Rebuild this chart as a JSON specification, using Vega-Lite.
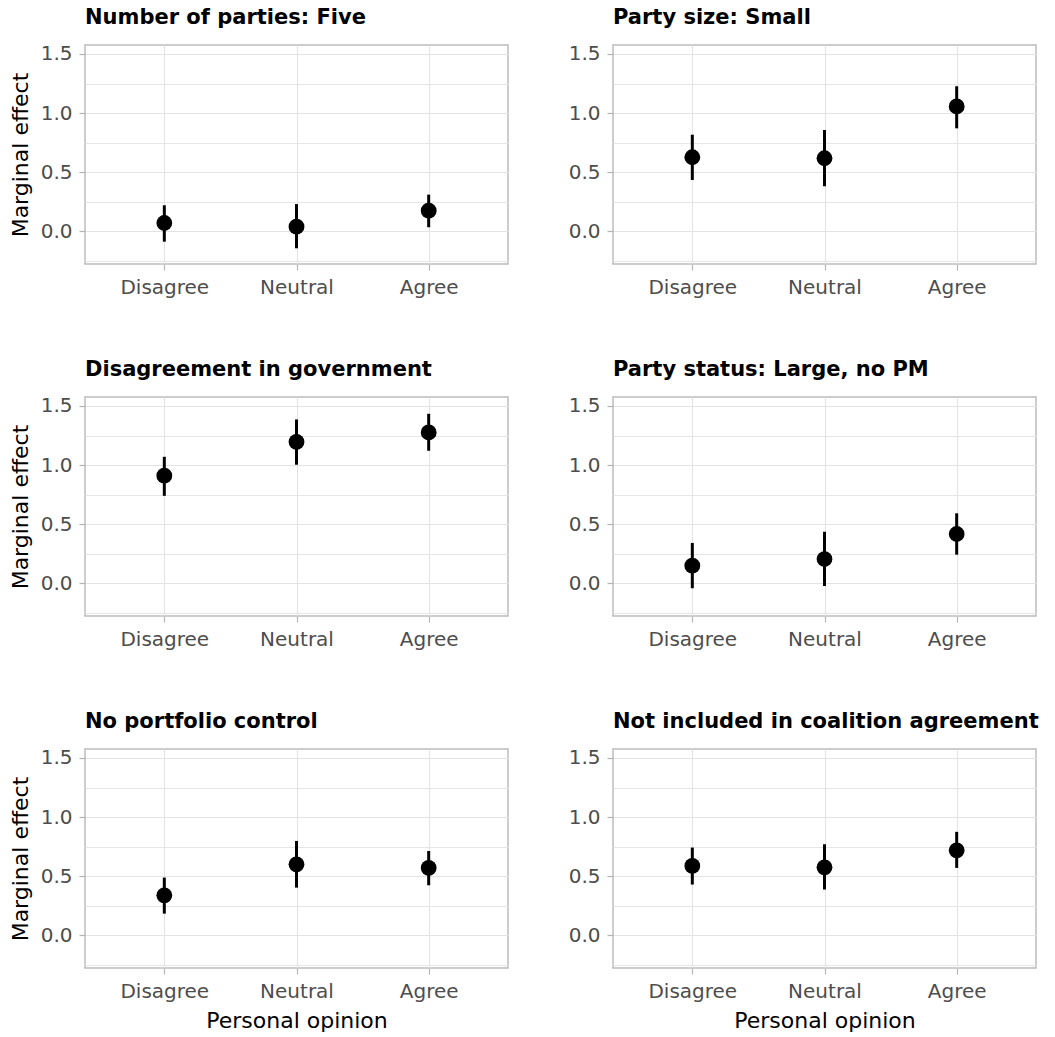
{
  "$schema": "https://vega.github.io/schema/vega-lite/v6.json",
  "padding": {"left": 8, "top": 6, "right": 5, "bottom": 5},
  "background": "white",
  "data": {"values": [
    {"panel": "Number of parties: Five", "opinion": "Disagree", "est": 0.07, "lo": -0.088, "hi": 0.22},
    {"panel": "Number of parties: Five", "opinion": "Neutral", "est": 0.039, "lo": -0.144, "hi": 0.23},
    {"panel": "Number of parties: Five", "opinion": "Agree", "est": 0.174, "lo": 0.034, "hi": 0.31},
    {"panel": "Party size: Small", "opinion": "Disagree", "est": 0.626, "lo": 0.434, "hi": 0.817},
    {"panel": "Party size: Small", "opinion": "Neutral", "est": 0.618, "lo": 0.381, "hi": 0.857},
    {"panel": "Party size: Small", "opinion": "Agree", "est": 1.056, "lo": 0.871, "hi": 1.227},
    {"panel": "Disagreement in government", "opinion": "Disagree", "est": 0.91, "lo": 0.74, "hi": 1.07},
    {"panel": "Disagreement in government", "opinion": "Neutral", "est": 1.197, "lo": 1.003, "hi": 1.386},
    {"panel": "Disagreement in government", "opinion": "Agree", "est": 1.276, "lo": 1.121, "hi": 1.434},
    {"panel": "Party status: Large, no PM", "opinion": "Disagree", "est": 0.149, "lo": -0.042, "hi": 0.341},
    {"panel": "Party status: Large, no PM", "opinion": "Neutral", "est": 0.205, "lo": -0.023, "hi": 0.436},
    {"panel": "Party status: Large, no PM", "opinion": "Agree", "est": 0.417, "lo": 0.242, "hi": 0.592},
    {"panel": "No portfolio control", "opinion": "Disagree", "est": 0.338, "lo": 0.183, "hi": 0.488},
    {"panel": "No portfolio control", "opinion": "Neutral", "est": 0.6, "lo": 0.403, "hi": 0.798},
    {"panel": "No portfolio control", "opinion": "Agree", "est": 0.57, "lo": 0.423, "hi": 0.713},
    {"panel": "Not included in coalition agreement", "opinion": "Disagree", "est": 0.587, "lo": 0.429, "hi": 0.742},
    {"panel": "Not included in coalition agreement", "opinion": "Neutral", "est": 0.575, "lo": 0.387, "hi": 0.77},
    {"panel": "Not included in coalition agreement", "opinion": "Agree", "est": 0.719, "lo": 0.57, "hi": 0.875}
  ]},
  "columns": 2,
  "bounds": "flush",
  "spacing": {"row": 133, "column": 105},
  "concat": [
    {
      "title": "Number of parties: Five",
      "width": 423, "height": 219,
      "transform": [{"filter": {"field": "panel", "equal": "Number of parties: Five"}}],
      "encoding": {"x": {"field": "opinion", "type": "nominal", "sort": ["Disagree", "Neutral", "Agree"], "scale": {"type": "point", "padding": 0.6}, "axis": {"title": null, "labelAngle": 0, "grid": true}}},
      "layer": [
        {"mark": {"type": "rule", "strokeWidth": 3, "color": "black"},
         "encoding": {"y": {"field": "lo", "type": "quantitative", "scale": {"domain": [-0.277, 1.576], "nice": false, "zero": false},
           "axis": {"title": "Marginal effect", "values": [-0.25, 0, 0.25, 0.5, 0.75, 1, 1.25, 1.5], "labelExpr": "datum.value % 0.5 === 0 ? format(datum.value, '.1f') : ''", "labelOverlap": false, "tickOpacity": {"condition": {"test": "datum.value % 0.5 !== 0", "value": 0}, "value": 1}, "gridWidth": {"condition": {"test": "datum.value % 0.5 !== 0", "value": 0.9}, "value": 1.2}, "titlePadding": 8}},
           "y2": {"field": "hi"}}},
        {"mark": {"type": "circle", "size": 250, "color": "black", "opacity": 1},
         "encoding": {"y": {"field": "est", "type": "quantitative", "scale": {"domain": [-0.277, 1.576], "nice": false, "zero": false},
           "axis": {"title": "Marginal effect", "values": [-0.25, 0, 0.25, 0.5, 0.75, 1, 1.25, 1.5], "labelExpr": "datum.value % 0.5 === 0 ? format(datum.value, '.1f') : ''", "labelOverlap": false, "tickOpacity": {"condition": {"test": "datum.value % 0.5 !== 0", "value": 0}, "value": 1}, "gridWidth": {"condition": {"test": "datum.value % 0.5 !== 0", "value": 0.9}, "value": 1.2}, "titlePadding": 8}}}}
      ]
    },
    {
      "title": "Party size: Small",
      "width": 423, "height": 219,
      "transform": [{"filter": {"field": "panel", "equal": "Party size: Small"}}],
      "encoding": {"x": {"field": "opinion", "type": "nominal", "sort": ["Disagree", "Neutral", "Agree"], "scale": {"type": "point", "padding": 0.6}, "axis": {"title": null, "labelAngle": 0, "grid": true}}},
      "layer": [
        {"mark": {"type": "rule", "strokeWidth": 3, "color": "black"},
         "encoding": {"y": {"field": "lo", "type": "quantitative", "scale": {"domain": [-0.277, 1.576], "nice": false, "zero": false},
           "axis": {"title": null, "values": [-0.25, 0, 0.25, 0.5, 0.75, 1, 1.25, 1.5], "labelExpr": "datum.value % 0.5 === 0 ? format(datum.value, '.1f') : ''", "labelOverlap": false, "tickOpacity": {"condition": {"test": "datum.value % 0.5 !== 0", "value": 0}, "value": 1}, "gridWidth": {"condition": {"test": "datum.value % 0.5 !== 0", "value": 0.9}, "value": 1.2}}},
           "y2": {"field": "hi"}}},
        {"mark": {"type": "circle", "size": 250, "color": "black", "opacity": 1},
         "encoding": {"y": {"field": "est", "type": "quantitative", "scale": {"domain": [-0.277, 1.576], "nice": false, "zero": false},
           "axis": {"title": null, "values": [-0.25, 0, 0.25, 0.5, 0.75, 1, 1.25, 1.5], "labelExpr": "datum.value % 0.5 === 0 ? format(datum.value, '.1f') : ''", "labelOverlap": false, "tickOpacity": {"condition": {"test": "datum.value % 0.5 !== 0", "value": 0}, "value": 1}, "gridWidth": {"condition": {"test": "datum.value % 0.5 !== 0", "value": 0.9}, "value": 1.2}}}}}
      ]
    },
    {
      "title": "Disagreement in government",
      "width": 423, "height": 219,
      "transform": [{"filter": {"field": "panel", "equal": "Disagreement in government"}}],
      "encoding": {"x": {"field": "opinion", "type": "nominal", "sort": ["Disagree", "Neutral", "Agree"], "scale": {"type": "point", "padding": 0.6}, "axis": {"title": null, "labelAngle": 0, "grid": true}}},
      "layer": [
        {"mark": {"type": "rule", "strokeWidth": 3, "color": "black"},
         "encoding": {"y": {"field": "lo", "type": "quantitative", "scale": {"domain": [-0.277, 1.576], "nice": false, "zero": false},
           "axis": {"title": "Marginal effect", "values": [-0.25, 0, 0.25, 0.5, 0.75, 1, 1.25, 1.5], "labelExpr": "datum.value % 0.5 === 0 ? format(datum.value, '.1f') : ''", "labelOverlap": false, "tickOpacity": {"condition": {"test": "datum.value % 0.5 !== 0", "value": 0}, "value": 1}, "gridWidth": {"condition": {"test": "datum.value % 0.5 !== 0", "value": 0.9}, "value": 1.2}, "titlePadding": 8}},
           "y2": {"field": "hi"}}},
        {"mark": {"type": "circle", "size": 250, "color": "black", "opacity": 1},
         "encoding": {"y": {"field": "est", "type": "quantitative", "scale": {"domain": [-0.277, 1.576], "nice": false, "zero": false},
           "axis": {"title": "Marginal effect", "values": [-0.25, 0, 0.25, 0.5, 0.75, 1, 1.25, 1.5], "labelExpr": "datum.value % 0.5 === 0 ? format(datum.value, '.1f') : ''", "labelOverlap": false, "tickOpacity": {"condition": {"test": "datum.value % 0.5 !== 0", "value": 0}, "value": 1}, "gridWidth": {"condition": {"test": "datum.value % 0.5 !== 0", "value": 0.9}, "value": 1.2}, "titlePadding": 8}}}}
      ]
    },
    {
      "title": "Party status: Large, no PM",
      "width": 423, "height": 219,
      "transform": [{"filter": {"field": "panel", "equal": "Party status: Large, no PM"}}],
      "encoding": {"x": {"field": "opinion", "type": "nominal", "sort": ["Disagree", "Neutral", "Agree"], "scale": {"type": "point", "padding": 0.6}, "axis": {"title": null, "labelAngle": 0, "grid": true}}},
      "layer": [
        {"mark": {"type": "rule", "strokeWidth": 3, "color": "black"},
         "encoding": {"y": {"field": "lo", "type": "quantitative", "scale": {"domain": [-0.277, 1.576], "nice": false, "zero": false},
           "axis": {"title": null, "values": [-0.25, 0, 0.25, 0.5, 0.75, 1, 1.25, 1.5], "labelExpr": "datum.value % 0.5 === 0 ? format(datum.value, '.1f') : ''", "labelOverlap": false, "tickOpacity": {"condition": {"test": "datum.value % 0.5 !== 0", "value": 0}, "value": 1}, "gridWidth": {"condition": {"test": "datum.value % 0.5 !== 0", "value": 0.9}, "value": 1.2}}},
           "y2": {"field": "hi"}}},
        {"mark": {"type": "circle", "size": 250, "color": "black", "opacity": 1},
         "encoding": {"y": {"field": "est", "type": "quantitative", "scale": {"domain": [-0.277, 1.576], "nice": false, "zero": false},
           "axis": {"title": null, "values": [-0.25, 0, 0.25, 0.5, 0.75, 1, 1.25, 1.5], "labelExpr": "datum.value % 0.5 === 0 ? format(datum.value, '.1f') : ''", "labelOverlap": false, "tickOpacity": {"condition": {"test": "datum.value % 0.5 !== 0", "value": 0}, "value": 1}, "gridWidth": {"condition": {"test": "datum.value % 0.5 !== 0", "value": 0.9}, "value": 1.2}}}}}
      ]
    },
    {
      "title": "No portfolio control",
      "width": 423, "height": 219,
      "transform": [{"filter": {"field": "panel", "equal": "No portfolio control"}}],
      "encoding": {"x": {"field": "opinion", "type": "nominal", "sort": ["Disagree", "Neutral", "Agree"], "scale": {"type": "point", "padding": 0.6}, "axis": {"title": "Personal opinion", "labelAngle": 0, "grid": true, "titlePadding": 9}}},
      "layer": [
        {"mark": {"type": "rule", "strokeWidth": 3, "color": "black"},
         "encoding": {"y": {"field": "lo", "type": "quantitative", "scale": {"domain": [-0.277, 1.576], "nice": false, "zero": false},
           "axis": {"title": "Marginal effect", "values": [-0.25, 0, 0.25, 0.5, 0.75, 1, 1.25, 1.5], "labelExpr": "datum.value % 0.5 === 0 ? format(datum.value, '.1f') : ''", "labelOverlap": false, "tickOpacity": {"condition": {"test": "datum.value % 0.5 !== 0", "value": 0}, "value": 1}, "gridWidth": {"condition": {"test": "datum.value % 0.5 !== 0", "value": 0.9}, "value": 1.2}, "titlePadding": 8}},
           "y2": {"field": "hi"}}},
        {"mark": {"type": "circle", "size": 250, "color": "black", "opacity": 1},
         "encoding": {"y": {"field": "est", "type": "quantitative", "scale": {"domain": [-0.277, 1.576], "nice": false, "zero": false},
           "axis": {"title": "Marginal effect", "values": [-0.25, 0, 0.25, 0.5, 0.75, 1, 1.25, 1.5], "labelExpr": "datum.value % 0.5 === 0 ? format(datum.value, '.1f') : ''", "labelOverlap": false, "tickOpacity": {"condition": {"test": "datum.value % 0.5 !== 0", "value": 0}, "value": 1}, "gridWidth": {"condition": {"test": "datum.value % 0.5 !== 0", "value": 0.9}, "value": 1.2}, "titlePadding": 8}}}}
      ]
    },
    {
      "title": "Not included in coalition agreement",
      "width": 423, "height": 219,
      "transform": [{"filter": {"field": "panel", "equal": "Not included in coalition agreement"}}],
      "encoding": {"x": {"field": "opinion", "type": "nominal", "sort": ["Disagree", "Neutral", "Agree"], "scale": {"type": "point", "padding": 0.6}, "axis": {"title": "Personal opinion", "labelAngle": 0, "grid": true, "titlePadding": 9}}},
      "layer": [
        {"mark": {"type": "rule", "strokeWidth": 3, "color": "black"},
         "encoding": {"y": {"field": "lo", "type": "quantitative", "scale": {"domain": [-0.277, 1.576], "nice": false, "zero": false},
           "axis": {"title": null, "values": [-0.25, 0, 0.25, 0.5, 0.75, 1, 1.25, 1.5], "labelExpr": "datum.value % 0.5 === 0 ? format(datum.value, '.1f') : ''", "labelOverlap": false, "tickOpacity": {"condition": {"test": "datum.value % 0.5 !== 0", "value": 0}, "value": 1}, "gridWidth": {"condition": {"test": "datum.value % 0.5 !== 0", "value": 0.9}, "value": 1.2}}},
           "y2": {"field": "hi"}}},
        {"mark": {"type": "circle", "size": 250, "color": "black", "opacity": 1},
         "encoding": {"y": {"field": "est", "type": "quantitative", "scale": {"domain": [-0.277, 1.576], "nice": false, "zero": false},
           "axis": {"title": null, "values": [-0.25, 0, 0.25, 0.5, 0.75, 1, 1.25, 1.5], "labelExpr": "datum.value % 0.5 === 0 ? format(datum.value, '.1f') : ''", "labelOverlap": false, "tickOpacity": {"condition": {"test": "datum.value % 0.5 !== 0", "value": 0}, "value": 1}, "gridWidth": {"condition": {"test": "datum.value % 0.5 !== 0", "value": 0.9}, "value": 1.2}}}}}
      ]
    }
  ],
  "config": {
    "font": "DejaVu Sans",
    "view": {"stroke": "#BDBDBD", "strokeWidth": 1.5},
    "axis": {
      "domain": false,
      "tickColor": "#B3B3B3",
      "tickSize": 6,
      "tickWidth": 1.2,
      "labelFont": "DejaVu Sans",
      "labelFontSize": 20,
      "labelColor": "#4D4D4D",
      "labelPadding": 7,
      "titleFont": "DejaVu Sans",
      "titleFontSize": 22,
      "titleFontWeight": "normal",
      "titleColor": "#000000",
      "gridColor": "#E3E3E3"
    },
    "title": {"font": "DejaVu Sans", "fontSize": 21, "fontWeight": "bold", "anchor": "start", "frame": "group", "color": "#000000", "offset": 16, "baseline": "bottom"}
  }
}
